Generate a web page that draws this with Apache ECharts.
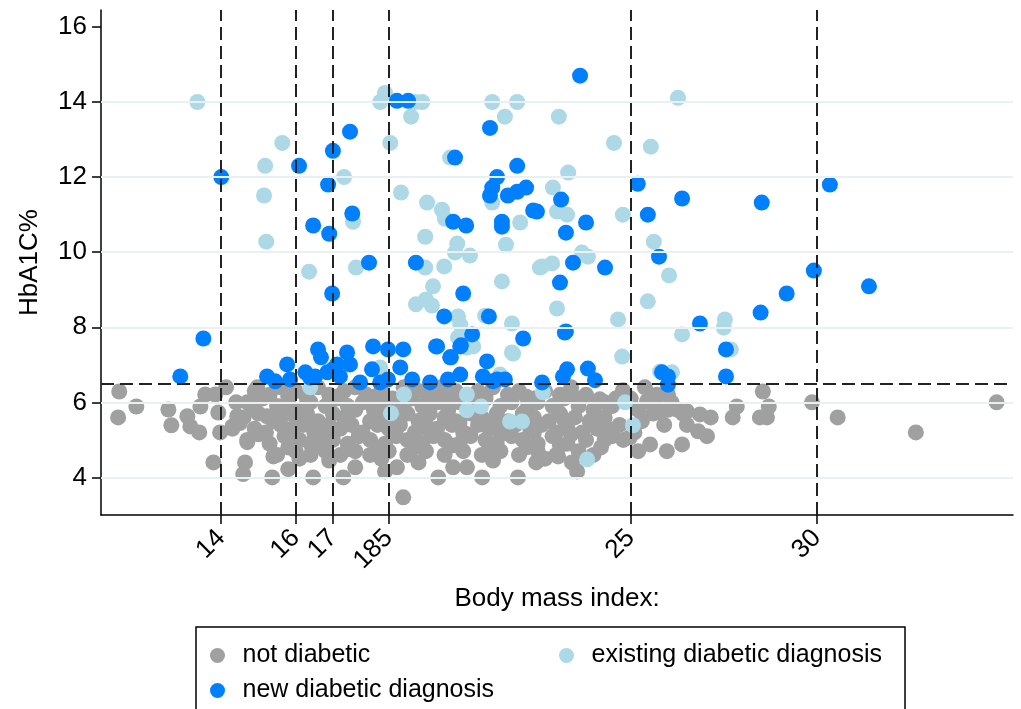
<!DOCTYPE html>
<html>
<head>
<meta charset="utf-8">
<script src="https://cdn.jsdelivr.net/npm/echarts@6/dist/echarts.min.js"></script>
<style>
  html, body { margin: 0; padding: 0; background: #fff; }
  #chart { width: 1021px; height: 709px; }
</style>
</head>
<body>
<div id="chart"></div>
<script>
// x ticks (BMI cut-offs) and their labels as printed in the figure
const bmiTicks = [14, 16, 17, 18.5, 25, 30];
const bmiTickLabels = ['14', '16', '17', '185', '25', '30'];
const hbTicks = [4, 6, 8, 10, 12, 14, 16];
const hbGrid = [4, 6, 8, 10, 12, 14];
const hbCutoff = 6.5;

// [BMI, HbA1C%]
const notDiabetic = [
  // sparse left side
  [11.26, 6.29], [11.23, 5.60], [11.72, 5.89], [12.58, 5.81], [12.66, 5.39], [13.09, 5.63], [13.17, 5.36],
  [13.41, 5.20], [13.44, 5.89], [13.57, 6.21], [13.84, 6.21], [13.92, 5.73], [13.97, 5.20], [14.13, 6.40],
  [13.79, 4.40], [14.64, 4.40], [14.59, 4.09], [14.70, 6.00], [14.30, 5.36], [14.43, 5.63], [14.70, 4.94],
  [15.40, 4.56], [15.37, 4.00], [15.80, 4.22], [16.47, 4.00], [14.97, 6.40], [15.23, 5.63],
  // low values
  [17.28, 4.00], [17.60, 4.27], [18.40, 4.16], [18.72, 4.27], [18.89, 3.47], [19.83, 4.00], [20.23, 4.27],
  [20.60, 4.27], [21.01, 4.00], [21.97, 4.00], [22.46, 4.40], [23.05, 4.56], [23.42, 4.40], [23.56, 4.16],
  // right tail
  [25.52, 4.88], [25.97, 4.70], [26.38, 4.88], [26.81, 5.23], [27.05, 5.10], [27.15, 5.60], [27.74, 5.60],
  [27.85, 5.89], [28.47, 5.60], [28.66, 5.60], [28.55, 6.29], [28.71, 5.89], [29.87, 6.00], [30.56, 5.60],
  [32.66, 5.20], [34.83, 6.00], [25.38, 6.40], [24.79, 6.32], [24.17, 6.08], [23.32, 6.21], [25.79, 5.73],
  [26.24, 5.81], [26.51, 5.76], [26.86, 5.68], [25.44, 6.03], [25.65, 6.03], [25.97, 6.21], [24.12, 6.03],
  [24.98, 5.07], [24.44, 5.28], [26.00, 6.21], [25.70, 5.89], [26.51, 5.40],
  // main cloud
  [14.9, 6.3], [15.3, 6.2], [15.6, 6.4], [16.0, 6.3], [16.3, 6.1], [16.6, 6.4], [16.9, 6.2], [17.3, 6.3],
  [17.6, 6.4], [17.9, 6.2], [18.3, 6.3], [18.6, 6.1], [18.9, 6.4], [19.3, 6.3], [19.6, 6.2], [19.9, 6.4],
  [20.3, 6.3], [20.6, 6.1], [20.9, 6.3], [21.3, 6.4], [21.7, 6.2], [22.0, 6.3], [22.4, 6.1], [22.7, 6.3],
  [23.1, 6.2], [23.4, 6.4], [23.8, 6.2], [24.3, 6.0], [25.0, 6.1], [25.7, 6.2], [26.1, 6.0],
  [15.8, 6.15], [17.1, 6.15], [18.1, 6.15], [19.0, 6.2], [20.1, 6.15], [21.1, 6.2], [22.2, 6.15], [23.6, 6.1],
  [24.6, 6.1],
  [14.4, 6.0], [14.8, 5.9], [15.1, 6.1], [15.5, 5.9], [15.8, 6.0], [16.1, 5.8], [16.4, 6.0], [16.8, 5.9],
  [17.1, 6.1], [17.4, 5.9], [17.8, 6.0], [18.1, 5.8], [18.4, 6.0], [18.8, 5.9], [19.1, 6.1], [19.4, 5.9],
  [19.8, 6.0], [20.1, 5.8], [20.4, 6.0], [20.8, 5.9], [21.1, 6.1], [21.5, 5.9], [21.8, 6.0], [22.2, 5.8],
  [22.5, 6.0], [22.9, 5.9], [23.2, 6.1], [23.6, 5.9], [24.0, 5.8], [24.5, 5.9], [25.2, 5.8], [25.6, 5.7],
  [26.0, 5.8], [26.4, 5.7],
  [14.6, 5.6], [15.0, 5.7], [15.4, 5.5], [15.7, 5.7], [16.0, 5.6], [16.3, 5.7], [16.6, 5.5], [17.0, 5.7],
  [17.3, 5.6], [17.6, 5.8], [18.0, 5.5], [18.3, 5.7], [18.6, 5.6], [19.0, 5.7], [19.3, 5.5], [19.6, 5.7],
  [20.0, 5.6], [20.3, 5.5], [20.7, 5.7], [21.0, 5.6], [21.4, 5.7], [21.7, 5.5], [22.1, 5.7], [22.4, 5.6],
  [22.8, 5.5], [23.1, 5.7], [23.5, 5.6], [23.9, 5.5], [24.3, 5.6], [24.7, 5.4], [25.3, 5.5], [25.9, 5.4],
  [14.5, 5.45], [15.5, 5.55], [16.4, 5.45], [17.4, 5.55], [18.4, 5.45], [19.4, 5.55], [20.4, 5.45], [21.4, 5.55],
  [22.3, 5.45], [23.2, 5.55], [24.0, 5.45],
  [14.3, 5.3], [14.9, 5.3], [15.2, 5.2], [15.6, 5.4], [15.9, 5.3], [16.2, 5.4], [16.5, 5.2], [16.9, 5.4],
  [17.2, 5.3], [17.5, 5.4], [17.8, 5.2], [18.2, 5.4], [18.5, 5.3], [18.8, 5.4], [19.2, 5.2], [19.5, 5.4],
  [19.8, 5.3], [20.2, 5.4], [20.5, 5.2], [20.9, 5.4], [21.2, 5.3], [21.6, 5.2], [21.9, 5.4], [22.3, 5.3],
  [22.6, 5.4], [23.0, 5.2], [23.3, 5.3], [23.7, 5.2], [24.1, 5.3], [24.5, 5.1], [25.1, 5.2],
  [15.0, 5.15], [15.9, 5.15], [16.8, 5.2], [17.7, 5.15], [18.6, 5.15], [19.6, 5.2], [20.6, 5.15], [21.5, 5.15],
  [22.4, 5.2], [23.4, 5.15], [24.3, 5.0],
  [14.7, 5.0], [15.3, 4.9], [15.7, 5.1], [16.1, 5.0], [16.4, 4.9], [16.7, 5.1], [17.0, 5.0], [17.4, 4.9],
  [17.7, 5.1], [18.0, 5.0], [18.4, 4.9], [18.7, 5.1], [19.0, 5.0], [19.4, 4.9], [19.7, 5.1], [20.0, 5.0],
  [20.4, 4.9], [20.7, 5.1], [21.1, 5.0], [21.4, 4.9], [21.8, 5.1], [22.1, 5.0], [22.5, 4.9], [22.9, 5.1],
  [23.3, 4.9], [23.8, 5.0], [24.2, 4.8], [24.8, 5.0], [25.2, 4.7],
  [15.8, 4.8], [16.6, 4.85], [17.4, 4.75], [18.2, 4.8], [19.2, 4.8], [20.2, 4.85], [21.2, 4.8], [22.2, 4.8],
  [23.1, 4.85], [24.0, 4.6],
  [15.5, 4.6], [16.0, 4.7], [16.4, 4.6], [16.8, 4.7], [17.2, 4.6], [17.6, 4.7], [18.0, 4.6], [18.5, 4.7],
  [19.0, 4.6], [19.5, 4.7], [20.0, 4.6], [20.5, 4.7], [21.0, 4.6], [21.5, 4.7], [22.0, 4.6], [22.5, 4.7],
  [23.0, 4.6], [23.6, 4.7],
  [16.9, 4.45], [18.3, 4.5], [19.3, 4.4], [21.3, 4.45], [22.7, 4.5], [16.1, 4.5]
];

const existingDiag = [
  [13.36, 14.00], [15.64, 12.91], [15.18, 12.30], [15.15, 11.51], [15.21, 10.28], [16.36, 9.48], [17.30, 12.00],
  [17.54, 10.81], [17.62, 9.59], [18.27, 14.00], [18.40, 14.24], [18.54, 12.91], [19.21, 14.00], [19.40, 14.00],
  [19.10, 13.61], [18.83, 11.59], [20.15, 12.52], [21.28, 14.00], [21.95, 14.00], [21.62, 13.61], [23.07, 13.61],
  [24.55, 12.91], [25.54, 12.81], [26.27, 14.11], [19.53, 11.32], [19.93, 11.13], [20.01, 10.89], [19.48, 10.41],
  [20.34, 10.23], [20.28, 9.99], [20.68, 9.91], [19.48, 9.59], [19.99, 9.62], [19.69, 9.09], [19.23, 8.61],
  [19.50, 8.74], [19.66, 8.58], [20.36, 8.29], [20.42, 8.07], [20.36, 7.73], [20.77, 7.49], [20.60, 7.46],
  [21.09, 8.31], [21.54, 9.22], [21.65, 10.20], [22.03, 10.79], [21.28, 11.32], [21.81, 8.10], [21.84, 7.30],
  [22.56, 9.59], [22.89, 9.70], [23.02, 11.08], [23.29, 11.00], [22.91, 11.72], [23.32, 12.12], [23.69, 9.99],
  [23.85, 9.88], [23.02, 8.50], [24.66, 8.21], [24.77, 7.22], [24.79, 11.00], [25.62, 10.28], [26.03, 9.38],
  [25.46, 8.69], [26.38, 7.81], [25.79, 6.82], [26.11, 6.80], [18.27, 6.93], [21.49, 6.74], [22.62, 9.62],
  [27.53, 8.21], [27.50, 7.99], [27.69, 7.41], [16.39, 6.40], [18.91, 6.21], [18.56, 5.71], [20.60, 6.21],
  [20.60, 5.79], [20.98, 5.89], [21.76, 5.49], [22.08, 5.49], [22.64, 6.27], [24.85, 6.00], [25.06, 5.39],
  [23.83, 4.48], [21.81, 7.33], [20.47, 7.68]
];

const newDiag = [
  [12.90, 6.69], [13.52, 7.70], [14.00, 12.00], [16.09, 12.30], [17.00, 12.70], [16.87, 11.80], [16.47, 10.71],
  [16.90, 10.49], [16.98, 8.90], [17.46, 13.21], [17.52, 11.03], [17.97, 9.72], [18.72, 14.03], [19.02, 14.03],
  [23.64, 14.70], [21.22, 13.31], [20.28, 12.52], [19.23, 9.72], [20.50, 8.90], [19.99, 8.29], [21.19, 8.29],
  [20.74, 7.81], [22.11, 7.70], [19.77, 7.49], [20.44, 7.52], [20.17, 7.20], [21.14, 7.09], [23.26, 7.89],
  [24.31, 9.59], [23.45, 9.72], [23.10, 9.19], [23.80, 10.79], [23.26, 10.52], [23.13, 11.40], [21.95, 12.30],
  [21.41, 12.00], [21.28, 11.72], [21.22, 11.51], [21.70, 11.51], [21.95, 11.61], [22.19, 11.72], [21.54, 10.81],
  [21.54, 10.68], [22.38, 11.11], [22.48, 11.08], [20.23, 10.81], [20.58, 10.71], [25.19, 11.82], [25.46, 11.00],
  [25.76, 9.88], [26.38, 11.43], [28.52, 11.32], [30.35, 11.80], [29.92, 9.51], [31.40, 9.09], [29.19, 8.90],
  [28.49, 8.39], [26.86, 8.10], [27.56, 7.41], [27.56, 6.69], [23.85, 6.90], [24.04, 6.59], [25.84, 6.80],
  [26.00, 6.69], [26.00, 6.47], [23.23, 7.86], [23.29, 6.88], [23.18, 6.69],
  [15.23, 6.69], [15.45, 6.56], [15.77, 7.01], [15.85, 6.61], [16.26, 6.80], [16.60, 7.41], [16.68, 7.20],
  [17.00, 6.88], [16.52, 6.69], [16.85, 6.80], [17.38, 7.33], [17.11, 7.01], [17.46, 7.01], [17.19, 6.69],
  [17.73, 6.53], [18.08, 7.49], [18.48, 7.41], [18.89, 7.41], [18.81, 6.93], [18.05, 6.88], [18.48, 6.61],
  [18.27, 6.53], [19.13, 6.61], [19.61, 6.53], [19.80, 7.49], [20.15, 7.20], [20.42, 7.49], [20.09, 6.61],
  [20.42, 6.74], [21.03, 6.69], [21.41, 6.61], [21.62, 6.61], [22.62, 6.53], [16.39, 6.66], [21.30, 6.56]
];

const chart = echarts.init(document.getElementById('chart'), null, {renderer: 'canvas'});

const font = 'Liberation Sans, Arial, sans-serif';
const dashStyle = {color: '#222', width: 2, type: [13, 6]};
const gridStyle = {color: '#e8f0f2', width: 2, type: 'solid'};

const refLines = [];
hbGrid.forEach(v => refLines.push({yAxis: v, lineStyle: gridStyle}));
bmiTicks.forEach(v => refLines.push({xAxis: v, lineStyle: dashStyle}));
refLines.push({yAxis: hbCutoff, lineStyle: dashStyle});

const legendBase = {
  orient: 'horizontal',
  icon: 'circle',
  itemWidth: 40,
  itemHeight: 15,
  padding: 0,
  selectedMode: false,
  textStyle: {fontFamily: font, fontSize: 25, color: '#000'}
};

const option = {
  animation: false,
  backgroundColor: '#fff',
  grid: {left: 101, right: 8, top: 10, bottom: 194, outerBoundsMode: 'none', containLabel: false},
  legend: [
    Object.assign({}, legendBase, {left: 210, top: 643, data: ['not diabetic']}),
    Object.assign({}, legendBase, {left: 559, top: 643, data: ['existing diabetic diagnosis']}),
    Object.assign({}, legendBase, {left: 210, top: 678, data: ['new diabetic diagnosis']})
  ],
  graphic: [{
    type: 'rect',
    shape: {x: 196, y: 627, width: 709, height: 100},
    style: {fill: 'none', stroke: '#000', lineWidth: 1.5},
    silent: true
  }],
  xAxis: {
    type: 'value',
    min: 10.77,
    max: 35.27,
    name: 'Body mass index:',
    nameLocation: 'middle',
    nameGap: 71,
    nameMoveOverlap: false,
    nameTextStyle: {fontFamily: font, fontSize: 26, color: '#000'},
    axisLine: {show: true, onZero: false, lineStyle: {color: '#000', width: 1.5}},
    axisTick: {show: true, length: 9, customValues: bmiTicks, lineStyle: {color: '#000', width: 1.5}},
    axisLabel: {
      customValues: bmiTicks,
      rotate: 45,
      margin: 19,
      fontFamily: font,
      fontSize: 26,
      color: '#000',
      formatter: v => bmiTickLabels[bmiTicks.indexOf(v)]
    },
    splitLine: {show: false}
  },
  yAxis: {
    type: 'value',
    min: 3,
    max: 16.45,
    name: 'HbA1C%',
    nameLocation: 'middle',
    nameGap: 58,
    nameMoveOverlap: false,
    nameTextStyle: {fontFamily: font, fontSize: 26, color: '#000'},
    axisLine: {show: true, onZero: false, lineStyle: {color: '#000', width: 1.5}},
    axisTick: {show: true, length: 9, customValues: hbTicks, lineStyle: {color: '#000', width: 1.5}},
    axisLabel: {customValues: hbTicks, margin: 14, fontFamily: font, fontSize: 26, color: '#000'},
    splitLine: {show: false}
  },
  series: [
    {
      name: 'reference lines',
      type: 'scatter',
      data: [],
      z: 1,
      markLine: {silent: true, symbol: ['none', 'none'], label: {show: false}, data: refLines}
    },
    {
      name: 'not diabetic',
      type: 'scatter',
      z: 2,
      symbolSize: 16,
      itemStyle: {color: '#a0a0a0', opacity: 1},
      data: notDiabetic
    },
    {
      name: 'existing diabetic diagnosis',
      type: 'scatter',
      z: 3,
      symbolSize: 16,
      itemStyle: {color: '#add8e6', opacity: 1},
      data: existingDiag
    },
    {
      name: 'new diabetic diagnosis',
      type: 'scatter',
      z: 4,
      symbolSize: 16,
      itemStyle: {color: '#0080ff', opacity: 1},
      data: newDiag
    }
  ]
};

chart.setOption(option);
</script>
</body>
</html>
